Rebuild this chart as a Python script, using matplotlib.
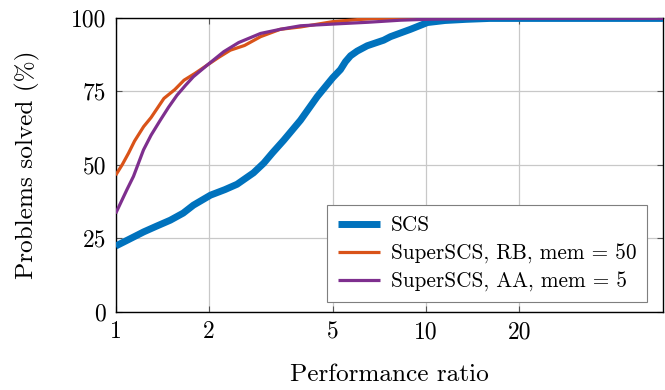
# perfil de desempeño: SCS vs SuperSCS
import matplotlib
matplotlib.use("Agg")
import matplotlib.pyplot as plt
from matplotlib.ticker import FixedLocator, FixedFormatter, NullLocator

# datos (razón de desempeño, % de problemas resueltos)
scs_x = [1.0, 1.1, 1.23, 1.35, 1.5, 1.65, 1.78, 2.02, 2.25, 2.46, 2.78, 3.0, 3.2,
         3.48, 3.94, 4.46, 5.0, 5.3, 5.5, 5.71, 6.0, 6.46, 7.3, 7.68, 8.91, 10.1, 11.5, 13.5, 16.0, 58.0]
scs_y = [22.3, 24.5, 27.1, 29.0, 31.1, 33.5, 36.2, 39.6, 41.5, 43.3, 47.2, 50.5, 54.0,
         58.3, 65.1, 73.1, 79.5, 82.3, 85.0, 87.0, 88.6, 90.4, 92.3, 93.5, 96.0, 98.3, 99.0, 99.4, 99.7, 99.7]

rb_x = [1.0, 1.05, 1.1, 1.15, 1.23, 1.3, 1.43, 1.55, 1.66, 1.8, 1.97, 2.15, 2.34,
        2.6, 2.93, 3.39, 3.94, 5.0, 6.0, 7.0, 9.0, 58.0]
rb_y = [46.4, 50.0, 53.9, 58.0, 62.9, 66.0, 72.5, 75.5, 78.7, 81.0, 83.8, 86.5, 88.9,
        90.5, 93.5, 96.0, 96.8, 98.6, 99.3, 99.7, 99.8, 99.8]

aa_x = [1.0, 1.087, 1.141, 1.229, 1.3, 1.392, 1.48, 1.576, 1.68, 1.78, 1.97, 2.23,
        2.49, 2.93, 3.39, 3.94, 5.04, 6.5, 8.27, 10.0, 15.0, 58.0]
aa_y = [33.4, 41.5, 46.0, 55.0, 60.0, 65.1, 69.5, 73.6, 77.0, 79.9, 83.8, 88.4,
        91.5, 94.6, 96.0, 97.2, 97.8, 98.4, 99.1, 99.4, 99.7, 99.7]

x_ticks = [1, 2, 5, 10, 20]
x_labels = ["1", "2", "5", "10", "20"]
y_ticks = [0, 25, 50, 75, 100]
y_labels = ["0", "25", "50", "75", "100"]

plt.rcParams["font.family"] = "serif"
plt.rcParams["font.serif"] = ["cmr10", "DejaVu Serif"]
plt.rcParams["mathtext.fontset"] = "cm"
plt.rcParams["axes.formatter.use_mathtext"] = True

fig = plt.figure(figsize=(6.65, 3.9), dpi=100)
ax = fig.add_axes([0.174, 0.201, 0.823, 0.754])

ax.plot(scs_x, scs_y, color="#0072BD", linewidth=5.0, label="SCS",
        solid_capstyle="butt", zorder=3)
ax.plot(rb_x, rb_y, color="#D95319", linewidth=2.3, label="SuperSCS, RB, mem = 50",
        solid_capstyle="butt", zorder=4)
ax.plot(aa_x, aa_y, color="#7E2F8E", linewidth=2.3, label="SuperSCS, AA, mem = 5",
        solid_capstyle="butt", zorder=5)

ax.set_xscale("log")
ax.set_xlim(1, 58)
ax.set_ylim(0, 100)
ax.xaxis.set_major_locator(FixedLocator(x_ticks))
ax.xaxis.set_major_formatter(FixedFormatter(x_labels))
ax.xaxis.set_minor_locator(NullLocator())
ax.yaxis.set_major_locator(FixedLocator(y_ticks))
ax.yaxis.set_major_formatter(FixedFormatter(y_labels))

ax.grid(True, color="#c8c8c8", linewidth=0.9)
ax.set_axisbelow(True)
ax.tick_params(direction="in", length=4, width=0.8, color="#555555",
               top=True, right=True, labelsize=17, pad=7)
for s in ax.spines.values():
    s.set_linewidth(1.0)
    s.set_color("black")

ax.set_xlabel("Performance ratio", fontsize=18.2, labelpad=15)
ax.set_ylabel("Problems solved (%)", fontsize=18.2, labelpad=22)

leg = ax.legend(loc="lower right", bbox_to_anchor=(0.971, 0.032), borderaxespad=0,
                fontsize=15.3, fancybox=False, framealpha=1, edgecolor="#7f7f7f",
                handlelength=2.0, handletextpad=0.5, labelspacing=0.38, borderpad=0.5)
leg.get_frame().set_linewidth(0.8)

fig.savefig("out.png", dpi=100)
